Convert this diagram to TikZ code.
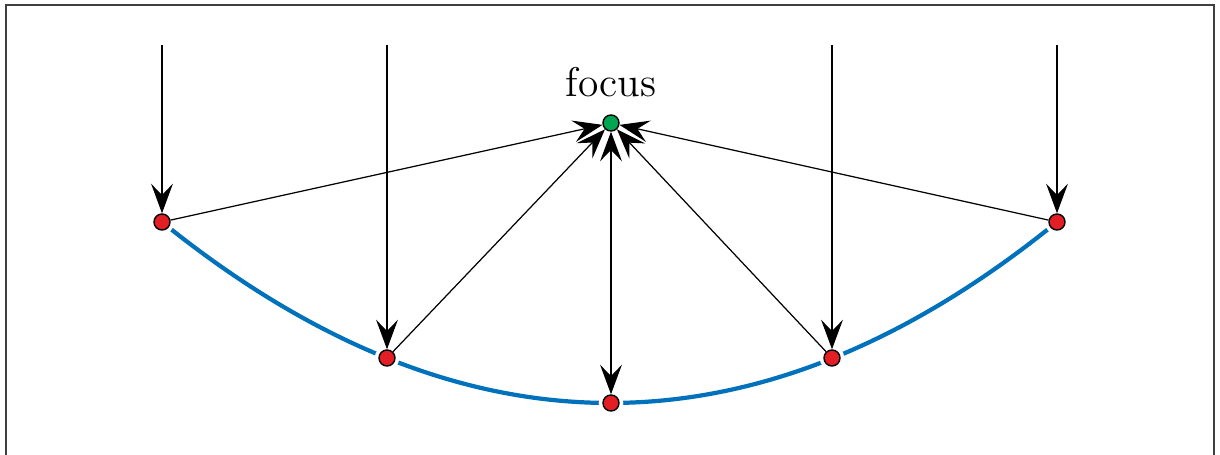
\documentclass[tikz,border=0pt]{standalone}
\usepackage{xcolor}
\definecolor{mirrorblue}{HTML}{0072BC}
\definecolor{rayred}{HTML}{E31E25}
\definecolor{focusgreen}{HTML}{00A651}
\usetikzlibrary{arrows.meta,positioning}
\tikzset{
  >={Stealth[length=8.4pt, width=6.2pt, inset=3.2pt]},
  pt/.style={circle, inner sep=0pt, minimum size=0.16cm, draw=black, line width=0.4pt,
             fill=rayred, preaction={draw=white, line width=2.4pt}},
  fpt/.style={pt, fill=focusgreen},
  ray/.style={->, draw=black, line width=0.35pt},
  mirror/.style={draw=mirrorblue, line width=1.2pt},
  frame/.style={draw=black!75, line width=0.6pt},
}
\begin{document}
\begin{tikzpicture}[x=0.01cm, y=-0.01cm]
  \useasboundingbox (0,0) rectangle (1220,455);
  \draw[frame] (6,470) -- (6,5) -- (1214,5) -- (1214,470);
  % points on the mirror
  \coordinate (a) at (162,222);
  \coordinate (b) at (387,358);
  \coordinate (c) at (611,403);
  \coordinate (d) at (832,358);
  \coordinate (e) at (1057,222);
  \draw[mirror] (a) .. controls (460.7,463.3) and (759.7,463.3) .. (e);
  \node[pt] (pa) at (a) {};
  \node[pt] (pb) at (b) {};
  \node[pt] (pc) at (c) {};
  \node[pt] (pd) at (d) {};
  \node[pt] (pe) at (e) {};
  \node[fpt] (f) at (611,123) {};
  \node[above=1.7mm of f, inner sep=0pt, font=\fontsize{11.8}{14}\selectfont] (lab) {focus};
  % incoming rays
  \coordinate (ta) at (162,45);
  \coordinate (tb) at (387,45);
  \coordinate (td) at (832,45);
  \coordinate (te) at (1057,45);
  \draw[ray] (ta) -- (pa);
  \draw[ray] (tb) -- (pb);
  \draw[ray] (td) -- (pd);
  \draw[ray] (te) -- (pe);
  % reflected rays
  \draw[ray] (pa) -- (f);
  \draw[ray] (pb) -- (f);
  \draw[ray, <->] (pc) -- (f);
  \draw[ray] (pd) -- (f);
  \draw[ray] (pe) -- (f);
\end{tikzpicture}
\end{document}
